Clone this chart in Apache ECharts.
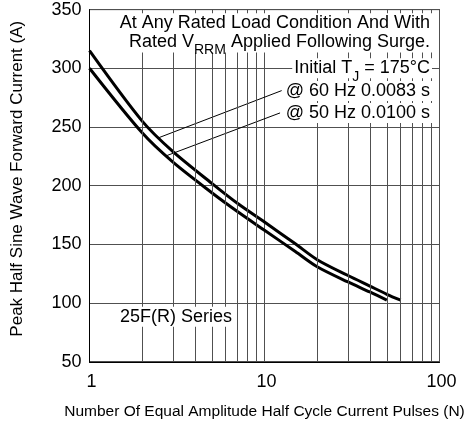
<!DOCTYPE html>
<html>
<head>
<meta charset="utf-8">
<script src="https://cdn.jsdelivr.net/npm/echarts@6/dist/echarts.min.js"></script>
<style>html,body{margin:0;padding:0;background:#fff;}#c{width:469px;height:428px;}</style>
</head>
<body>
<div id="c"></div>
<script>
// Data
const pulses60 = [1, 2, 3, 5, 7, 10, 15, 20, 30, 40, 50, 60];
const current60 = [315, 255, 229, 202, 185, 169, 150.5, 137, 123.5, 114.5, 107.5, 102.5];
const pulses50 = [1, 2, 3, 5, 7, 10, 15, 20, 30, 40, 50];
const current50 = [300, 245, 220, 194, 178, 162, 144, 131, 118, 109.5, 102.5];
const minorGridN = [2, 3, 4, 5, 6, 7, 8, 9, 20, 30, 40, 50, 60, 70, 80, 90];
const leader60 = [[2.5, 241], [12.54, 281]];
const leader50 = [[2.75, 225.5], [12.27, 262]];
const yTicks = { min: 50, max: 350, interval: 50 };

const FONT = '"Liberation Sans", Arial, sans-serif';
const chart = echarts.init(document.getElementById('c'), null, { renderer: 'canvas' });

const toPairs = (xs, ys) => xs.map((x, i) => [x, ys[i]]);
const gridColor = '#505050';

const option = {
  animation: false,
  backgroundColor: '#fff',
  grid: { left: 89.5, right: 29.5, top: 9.6, bottom: 66.2, show: true, borderColor: '#000', borderWidth: 1, backgroundColor: 'transparent' },
  xAxis: {
    type: 'log', logBase: 10, min: 1, max: 100,
    name: 'Number Of Equal Amplitude Half Cycle Current Pulses (N)',
    nameLocation: 'middle', nameGap: 42,
    nameTextStyle: { fontFamily: FONT, fontSize: 15.5, color: '#000' },
    axisLine: { show: true, lineStyle: { color: '#000', width: 1 } },
    axisTick: { show: false },
    axisLabel: { fontFamily: FONT, fontSize: 18, color: '#000', margin: 11, padding: [0, 0, 0, 4] },
    splitLine: { show: true, lineStyle: { color: gridColor, width: 1 } },
    minorTick: { show: false }, minorSplitLine: { show: false }
  },
  yAxis: {
    type: 'value', min: yTicks.min, max: yTicks.max, interval: yTicks.interval,
    name: 'Peak Half Sine Wave Forward Current (A)',
    nameLocation: 'middle', nameGap: 64,
    nameTextStyle: { fontFamily: FONT, fontSize: 17, color: '#000', padding: [0, 0, 0, 14] },
    axisLine: { show: true, lineStyle: { color: '#000', width: 1 } },
    axisTick: { show: false },
    axisLabel: { fontFamily: FONT, fontSize: 18, color: '#000', margin: 8 },
    splitLine: { show: true, lineStyle: { color: gridColor, width: 1 } }
  },
  series: [
    {
      type: 'line', name: 'grid', data: [[1, 50]], symbol: 'none', silent: true, z: 1,
      lineStyle: { opacity: 0 },
      markLine: {
        silent: true, symbol: 'none', animation: false, label: { show: false },
        lineStyle: { color: gridColor, width: 1, type: 'solid' },
        data: minorGridN.map(v => ({ xAxis: v }))
      }
    },
    {
      type: 'line', name: '@ 60 Hz', data: toPairs(pulses60, current60), smooth: 0.3,
      symbol: 'none', z: 3, lineStyle: { color: '#000', width: 3 }
    },
    {
      type: 'line', name: '@ 50 Hz', data: toPairs(pulses50, current50), smooth: 0.3,
      symbol: 'none', z: 3, lineStyle: { color: '#000', width: 3 }
    },
    { type: 'line', data: leader60, symbol: 'none', z: 3, lineStyle: { color: '#000', width: 1 } },
    { type: 'line', data: leader50, symbol: 'none', z: 3, lineStyle: { color: '#000', width: 1 } }
  ],
  graphic: [
    { type: 'text', z: 100, style: { text: 'At Any Rated Load Condition And With', x: 432, y: 23.3, align: 'right', verticalAlign: 'middle', font: '18px ' + FONT, fill: '#000', backgroundColor: '#fff', padding: [1, 2, 1, 2] } },
    { type: 'text', z: 100, style: {
        text: '{a|Rated V}{s|RRM}{a| Applied Following Surge.}', x: 432, y: 42.5, align: 'right', verticalAlign: 'middle',
        fill: '#000', backgroundColor: '#fff', padding: [0, 2, 0, 2],
        rich: { a: { fontFamily: FONT, fontSize: 18, lineHeight: 20, fill: '#000' }, s: { fontFamily: FONT, fontSize: 14, lineHeight: 14, padding: [16, 0, 0, 0], fill: '#000' } }
    } },
    { type: 'text', z: 100, style: {
        text: '{a|Initial T}{s|J}{a| = 175°C}', x: 432, y: 68.3, align: 'right', verticalAlign: 'middle',
        fill: '#000', backgroundColor: '#fff', padding: [0, 2, 0, 2],
        rich: { a: { fontFamily: FONT, fontSize: 18, lineHeight: 20, fill: '#000' }, s: { fontFamily: FONT, fontSize: 14, lineHeight: 14, padding: [18, 0, 0, 0], fill: '#000' } }
    } },
    { type: 'text', z: 100, style: { text: '@ 60 Hz 0.0083 s', x: 432, y: 91, align: 'right', verticalAlign: 'middle', font: '18px ' + FONT, fill: '#000', backgroundColor: '#fff', padding: [1, 2, 1, 2] } },
    { type: 'text', z: 100, style: { text: '@ 50 Hz 0.0100 s', x: 432, y: 113, align: 'right', verticalAlign: 'middle', font: '18px ' + FONT, fill: '#000', backgroundColor: '#fff', padding: [1, 2, 1, 2] } },
    { type: 'text', z: 100, style: { text: '25F(R) Series', x: 118, y: 316.7, align: 'left', verticalAlign: 'middle', font: '18px ' + FONT, fill: '#000', backgroundColor: '#fff', padding: [1, 2, 1, 2] } }
  ]
};
chart.setOption(option);
</script>
</body>
</html>
